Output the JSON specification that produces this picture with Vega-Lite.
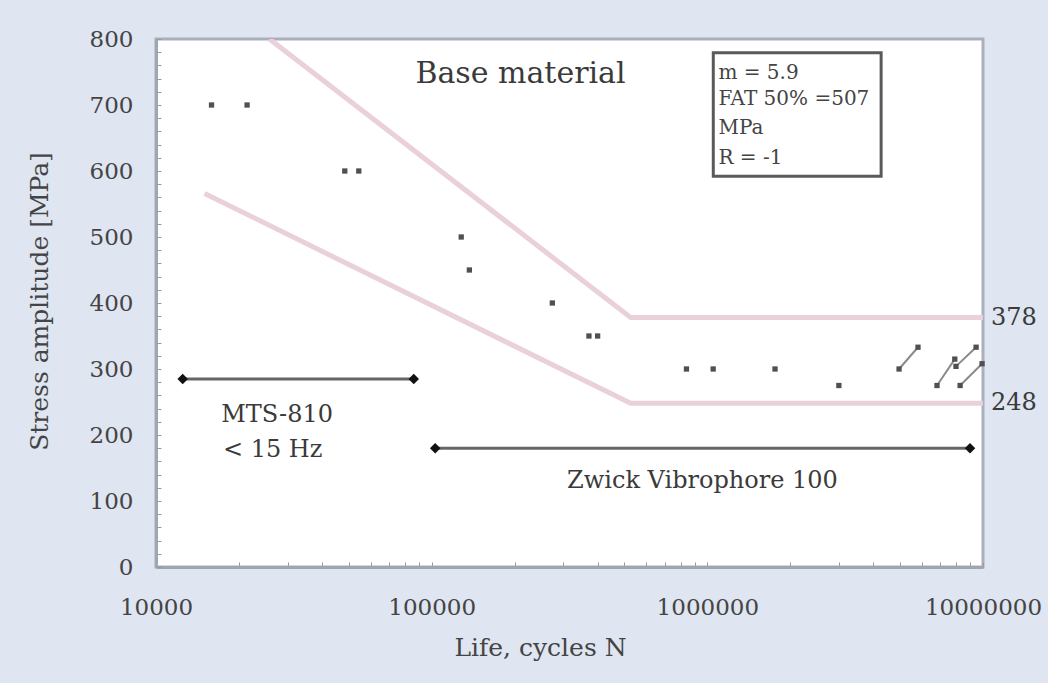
{
  "$schema": "https://vega.github.io/schema/vega-lite/v6.json",
  "autosize": "none",
  "width": 827,
  "height": 528,
  "padding": {"left": 156, "top": 39, "right": 65, "bottom": 116},
  "background": "#dfe5f1",
  "config": {
    "font": "DejaVu Serif",
    "view": {"stroke": "#aab0bb", "strokeWidth": 3, "fill": "#ffffff"}
  },
  "datasets": {
    "pts": [
      {"N": 15900, "S": 700}, {"N": 21400, "S": 700},
      {"N": 48400, "S": 600}, {"N": 54400, "S": 600},
      {"N": 128000, "S": 500}, {"N": 137000, "S": 450},
      {"N": 274000, "S": 400},
      {"N": 372000, "S": 350}, {"N": 400000, "S": 350},
      {"N": 840000, "S": 300}, {"N": 1050000, "S": 300},
      {"N": 1760000, "S": 300}, {"N": 3000000, "S": 275},
      {"N": 4960000, "S": 300}, {"N": 5810000, "S": 333},
      {"N": 6810000, "S": 275}, {"N": 7900000, "S": 315},
      {"N": 7980000, "S": 304}, {"N": 8260000, "S": 275},
      {"N": 9440000, "S": 333}, {"N": 9920000, "S": 308}
    ],
    "runout": [
      {"pair": "a", "N": 4960000, "S": 300}, {"pair": "a", "N": 5810000, "S": 333},
      {"pair": "b", "N": 6810000, "S": 275}, {"pair": "b", "N": 7900000, "S": 315},
      {"pair": "c", "N": 8260000, "S": 275}, {"pair": "c", "N": 9920000, "S": 308},
      {"pair": "d", "N": 7980000, "S": 304}, {"pair": "d", "N": 9440000, "S": 333}
    ],
    "sn": [
      {"curve": "upper", "N": 25800, "S": 800},
      {"curve": "upper", "N": 527000, "S": 378},
      {"curve": "upper", "N": 10000000, "S": 378},
      {"curve": "lower", "N": 15000, "S": 566},
      {"curve": "lower", "N": 527000, "S": 248},
      {"curve": "lower", "N": 10000000, "S": 248}
    ],
    "arrows": [
      {"arrow": "MTS", "N": 12500, "S": 285},
      {"arrow": "MTS", "N": 86100, "S": 285},
      {"arrow": "Zwick", "N": 103000, "S": 180},
      {"arrow": "Zwick", "N": 8970000, "S": 180}
    ],
    "labels": [
      {"txt": "Base material", "N": 210000, "S": 747, "size": "big"},
      {"txt": "MTS-810", "N": 27500, "S": 230, "size": "mid"},
      {"txt": "< 15 Hz", "N": 26500, "S": 178, "size": "mid"},
      {"txt": "Zwick Vibrophore 100", "N": 960000, "S": 130, "size": "mid"}
    ],
    "side": [
      {"txt": "378", "N": 10000000, "S": 378},
      {"txt": "248", "N": 10000000, "S": 248}
    ],
    "box": [
      {"N1": 1051000, "N2": 4270000, "S1": 779, "S2": 592}
    ],
    "boxtext": [
      {"txt": "m = 5.9", "N": 1097000, "S": 748},
      {"txt": "FAT 50% =507", "N": 1097000, "S": 709},
      {"txt": "MPa", "N": 1097000, "S": 665},
      {"txt": "R = -1", "N": 1097000, "S": 620}
    ]
  },
  "layer": [
    {
      "data": {"name": "sn"},
      "mark": {"type": "line", "color": "#ead0da", "strokeWidth": 5, "clip": true},
      "encoding": {
        "x": {
          "field": "N", "type": "quantitative",
          "scale": {"type": "log", "domain": [10000, 10000000]},
          "axis": {
            "title": "Life, cycles N",
            "values": [10000, 20000, 30000, 40000, 50000, 60000, 70000, 80000, 90000,
                       100000, 200000, 300000, 400000, 500000, 600000, 700000, 800000, 900000,
                       1000000, 2000000, 3000000, 4000000, 5000000, 6000000, 7000000, 8000000, 9000000,
                       10000000],
            "tickCount": 200,
            "format": "d",
            "labelOpacity": {"condition": {"test": "indexof([10000,100000,1000000,10000000], datum.value) >= 0", "value": 1}, "value": 0},
            "labelOverlap": false,
            "labelFlush": false,
            "labelFontSize": 23,
            "labelColor": "#444444",
            "labelPadding": 34,
            "tickSize": -5,
            "tickColor": "#999999",
            "domainColor": "#a0a6b0",
            "domainWidth": 3,
            "grid": false,
            "titleFontSize": 25,
            "titleFontWeight": "normal",
            "titleColor": "#444444",
            "titleX": 384,
            "titleY": 80,
            "titleBaseline": "middle"
          }
        },
        "y": {
          "field": "S", "type": "quantitative",
          "scale": {"domain": [0, 800], "nice": false},
          "axis": {
            "title": "Stress amplitude [MPa]",
            "values": [0, 20, 40, 60, 80, 100, 120, 140, 160, 180, 200, 220, 240, 260, 280, 300,
                       320, 340, 360, 380, 400, 420, 440, 460, 480, 500, 520, 540, 560, 580, 600,
                       620, 640, 660, 680, 700, 720, 740, 760, 780, 800],
            "tickCount": 200,
            "format": "d",
            "labelOpacity": {"condition": {"test": "datum.value % 100 === 0", "value": 1}, "value": 0},
            "labelOverlap": false,
            "labelFontSize": 23,
            "labelColor": "#444444",
            "labelPadding": 28,
            "tickSize": -5,
            "tickColor": "#999999",
            "domainColor": "#a0a6b0",
            "domainWidth": 3,
            "grid": false,
            "titleFontSize": 25,
            "titleFontWeight": "normal",
            "titleColor": "#444444",
            "titleX": -117,
            "titleY": 262,
            "titleBaseline": "middle"
          }
        },
        "detail": {"field": "curve"}
      }
    },
    {
      "data": {"name": "runout"},
      "mark": {"type": "line", "color": "#8a8a8a", "strokeWidth": 2},
      "encoding": {
        "x": {"field": "N", "type": "quantitative"},
        "y": {"field": "S", "type": "quantitative"},
        "detail": {"field": "pair"}
      }
    },
    {
      "data": {"name": "pts"},
      "mark": {"type": "point", "shape": "square", "filled": true, "size": 28, "color": "#505050", "opacity": 1},
      "encoding": {
        "x": {"field": "N", "type": "quantitative"},
        "y": {"field": "S", "type": "quantitative"}
      }
    },
    {
      "data": {"name": "arrows"},
      "mark": {"type": "line", "color": "#666666", "strokeWidth": 3},
      "encoding": {
        "x": {"field": "N", "type": "quantitative"},
        "y": {"field": "S", "type": "quantitative"},
        "detail": {"field": "arrow"}
      }
    },
    {
      "data": {"name": "arrows"},
      "mark": {"type": "point", "shape": "diamond", "filled": true, "size": 110, "color": "#111111", "opacity": 1},
      "encoding": {
        "x": {"field": "N", "type": "quantitative"},
        "y": {"field": "S", "type": "quantitative"}
      }
    },
    {
      "data": {"name": "box"},
      "mark": {"type": "rect", "fill": "#ffffff", "stroke": "#5a5a5a", "strokeWidth": 3},
      "encoding": {
        "x": {"field": "N1", "type": "quantitative"},
        "x2": {"field": "N2"},
        "y": {"field": "S1", "type": "quantitative"},
        "y2": {"field": "S2"}
      }
    },
    {
      "data": {"name": "boxtext"},
      "mark": {"type": "text", "align": "left", "baseline": "middle", "fontSize": 20, "color": "#444444"},
      "encoding": {
        "x": {"field": "N", "type": "quantitative"},
        "y": {"field": "S", "type": "quantitative"},
        "text": {"field": "txt"}
      }
    },
    {
      "data": {"name": "labels"},
      "mark": {"type": "text", "align": "center", "baseline": "middle", "color": "#3a3a3a"},
      "encoding": {
        "x": {"field": "N", "type": "quantitative"},
        "y": {"field": "S", "type": "quantitative"},
        "text": {"field": "txt"},
        "size": {
          "field": "size", "type": "nominal",
          "scale": {"domain": ["big", "mid"], "range": [30, 24]},
          "legend": null
        }
      }
    },
    {
      "data": {"name": "side"},
      "mark": {"type": "text", "align": "left", "baseline": "middle", "dx": 8, "fontSize": 24, "color": "#3a3a3a"},
      "encoding": {
        "x": {"field": "N", "type": "quantitative"},
        "y": {"field": "S", "type": "quantitative"},
        "text": {"field": "txt"}
      }
    }
  ]
}
